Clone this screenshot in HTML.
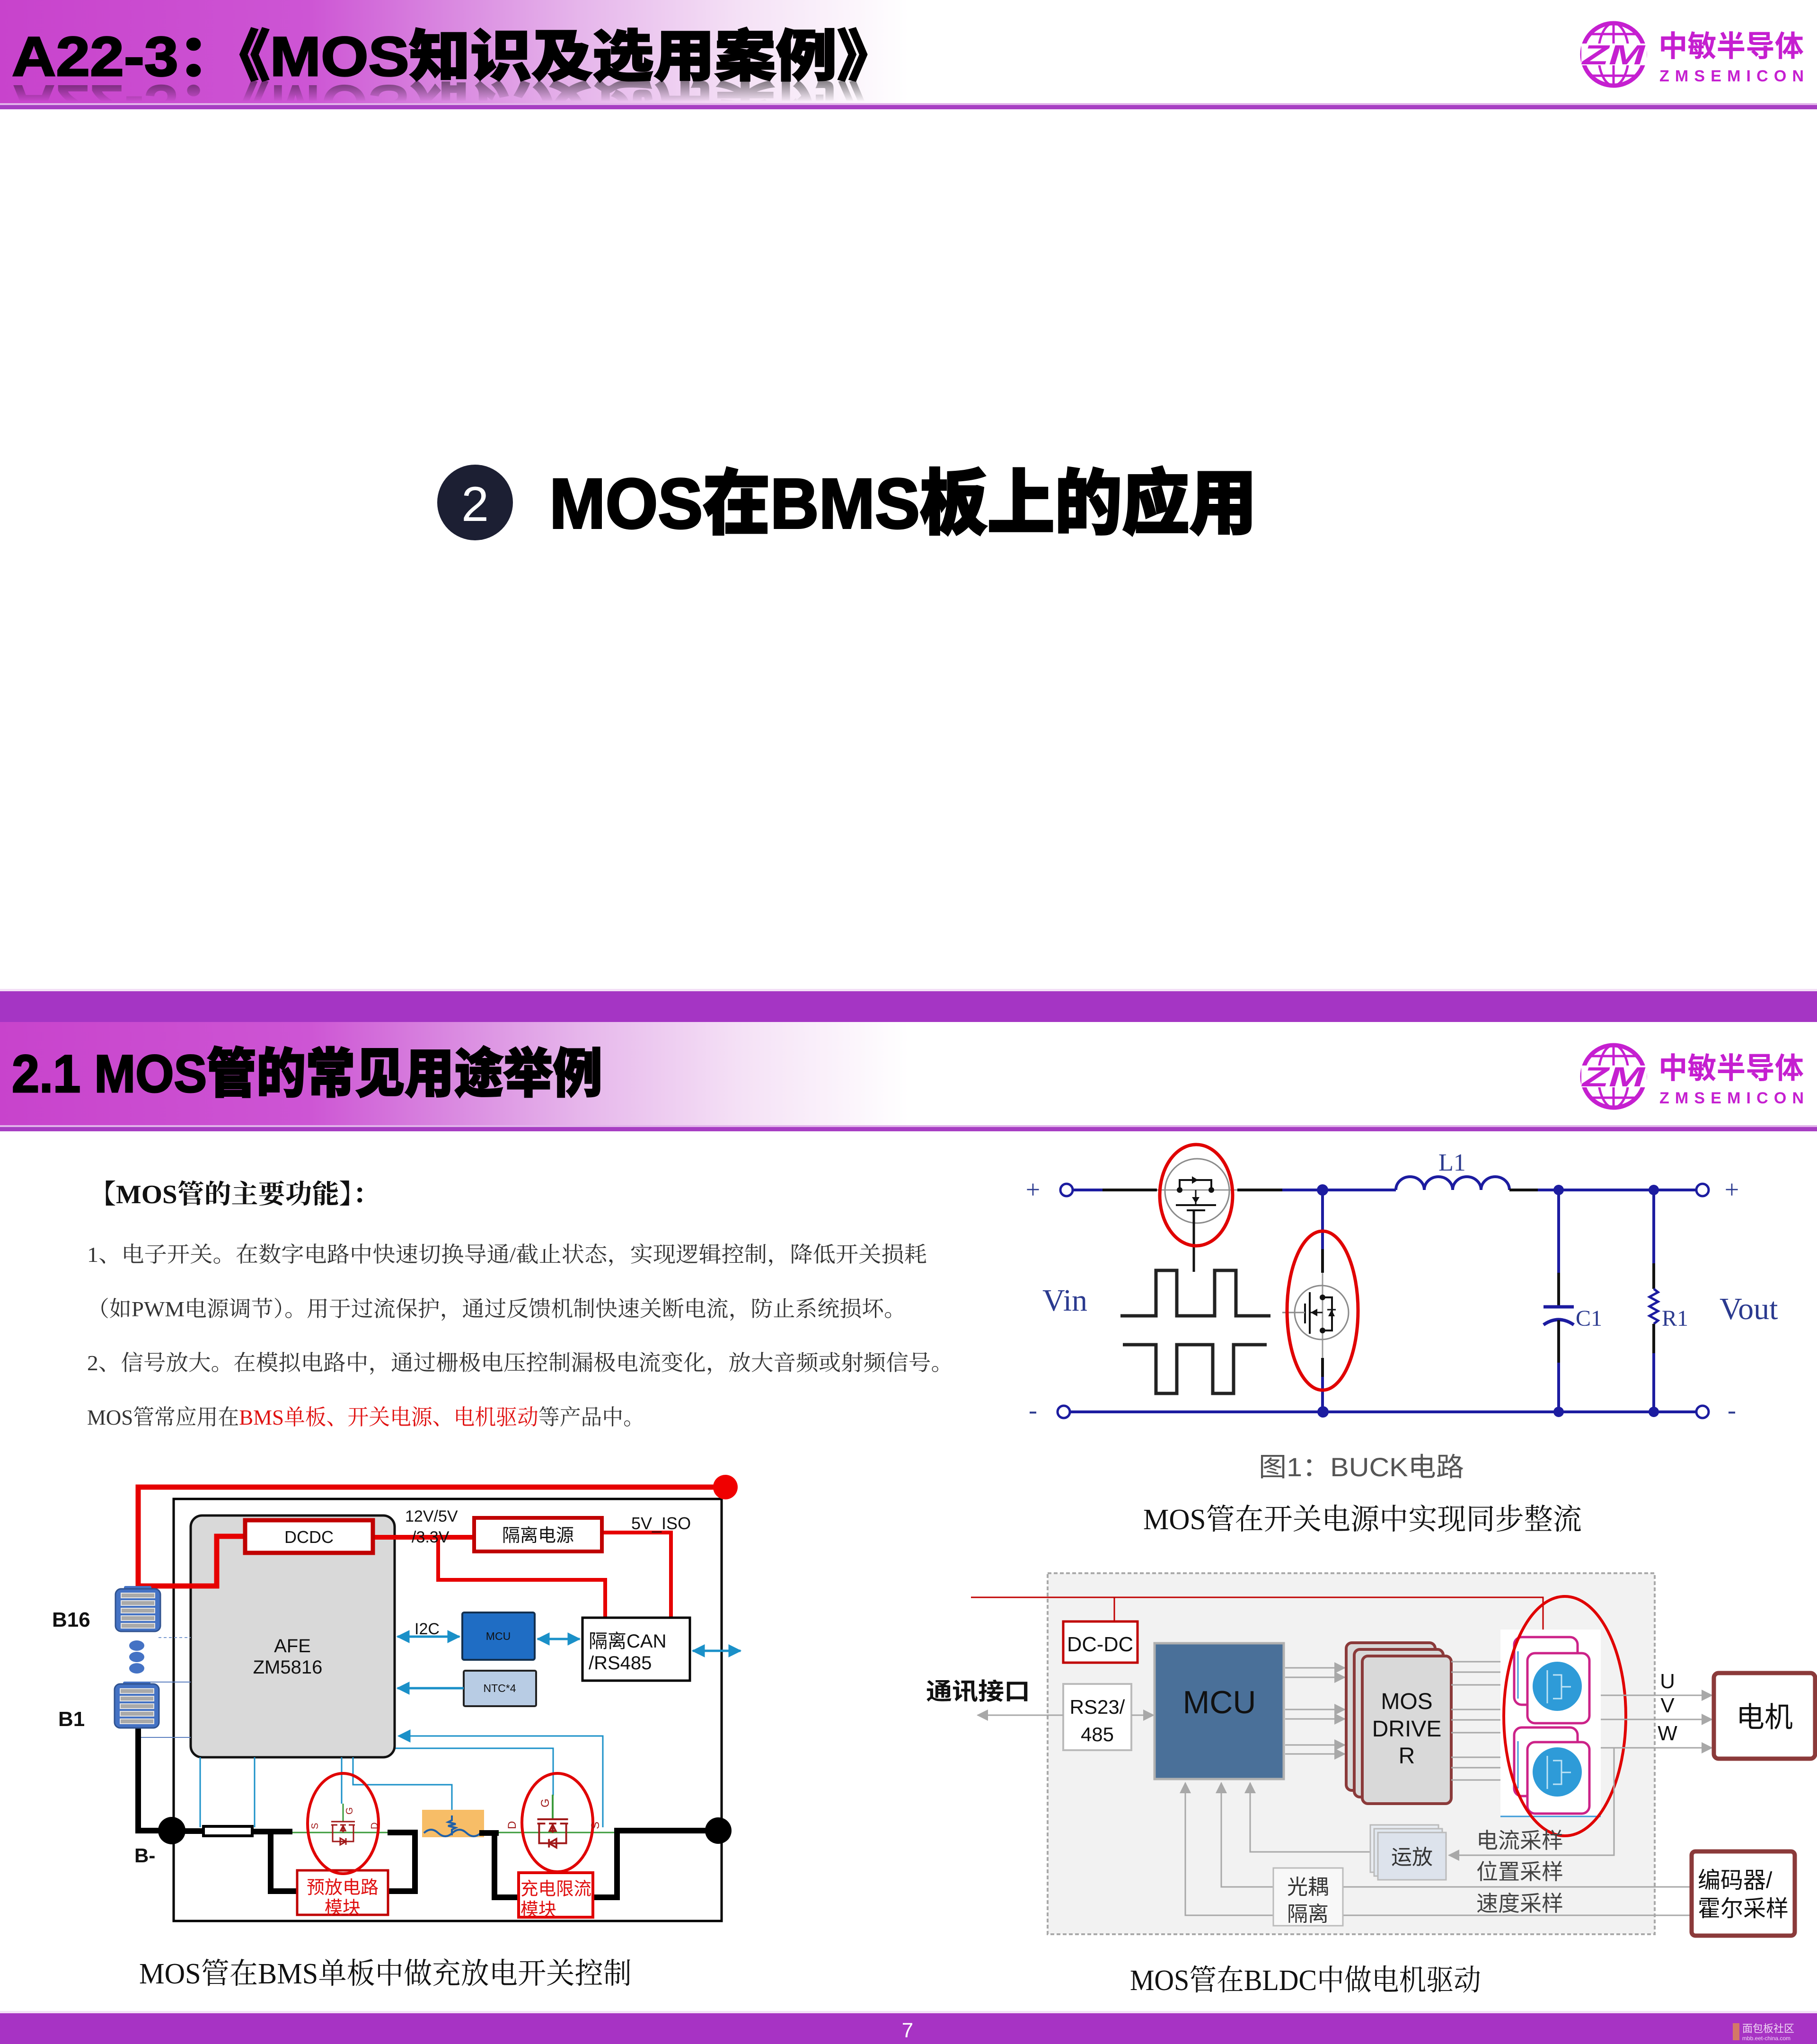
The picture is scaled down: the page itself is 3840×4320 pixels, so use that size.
<!DOCTYPE html>
<html><head><meta charset="utf-8">
<style>
html,body{margin:0;padding:0;background:#fff;width:3840px;height:4320px;overflow:hidden;}
svg{display:block;}
.s{font-family:"Liberation Sans","Noto Sans CJK SC",sans-serif;}
.r{font-family:"Liberation Serif","Noto Serif CJK SC",serif;}
.h{font-family:"Liberation Sans","Noto Sans CJK SC",sans-serif;font-weight:900;}
</style></head><body>
<svg width="3840" height="4320" viewBox="0 0 3840 4320" xmlns="http://www.w3.org/2000/svg">
<defs>
<linearGradient id="hg" x1="0" y1="0" x2="1" y2="0">
 <stop offset="0" stop-color="#c843cc"/>
 <stop offset="0.17" stop-color="#cd55d4"/>
 <stop offset="0.24" stop-color="#d883df"/>
 <stop offset="0.32" stop-color="#e6b6eb"/>
 <stop offset="0.41" stop-color="#f5e2f6"/>
 <stop offset="0.5" stop-color="#ffffff"/>
</linearGradient>
<linearGradient id="rg" gradientUnits="userSpaceOnUse" x1="0" y1="167" x2="0" y2="125">
 <stop offset="0" stop-color="#000" stop-opacity="0.45"/>
 <stop offset="1" stop-color="#000" stop-opacity="0"/>
</linearGradient>
<clipPath id="rc"><rect x="0" y="168" width="2000" height="45"/></clipPath>
<marker id="ab" viewBox="0 0 24 24" refX="22" refY="12" markerWidth="28" markerHeight="28" markerUnits="userSpaceOnUse" orient="auto-start-reverse"><path d="M0,0 L24,12 L0,24 Z" fill="#1a90c8"/></marker>
<marker id="ag" viewBox="0 0 24 24" refX="22" refY="12" markerWidth="24" markerHeight="24" markerUnits="userSpaceOnUse" orient="auto-start-reverse"><path d="M0,0 L24,12 L0,24 Z" fill="#a8a8a8"/></marker>
</defs>

<!-- ================= SLIDE 1 ================= -->
<rect x="0" y="0" width="3840" height="218" fill="url(#hg)"/>
<rect x="0" y="218" width="3840" height="4" fill="#e2b4ea"/>
<rect x="0" y="222" width="3840" height="9" fill="#a73ec3"/>
<text class="h" x="25" y="160" font-size="118" textLength="1873" lengthAdjust="spacingAndGlyphs" fill="#000" stroke="#000" stroke-width="3">A22-3：《MOS知识及选用案例》</text>
<g clip-path="url(#rc)">
 <g transform="translate(0,340) scale(1,-1)">
  <text class="h" x="25" y="160" font-size="118" textLength="1873" lengthAdjust="spacingAndGlyphs" fill="url(#rg)">A22-3：《MOS知识及选用案例》</text>
 </g>
</g>

<!-- logo 1 -->
<g>
 <circle cx="3410" cy="115" r="66" fill="#fff" stroke="#c51fd0" stroke-width="9"/>
 <ellipse cx="3410" cy="115" rx="32" ry="66" fill="none" stroke="#c51fd0" stroke-width="5"/>
 <line x1="3410" y1="49" x2="3410" y2="181" stroke="#c51fd0" stroke-width="5"/>
 <line x1="3360" y1="72" x2="3460" y2="72" stroke="#c51fd0" stroke-width="5"/>
 <line x1="3360" y1="160" x2="3460" y2="160" stroke="#c51fd0" stroke-width="5"/>
 <rect x="3342" y="92" width="138" height="46" fill="#fff"/>
 <text class="s" x="3344" y="136" font-size="58" font-weight="bold" font-style="italic" fill="#c51fd0" textLength="132" lengthAdjust="spacingAndGlyphs">ZM</text>
 <text class="s" x="3505" y="119" font-size="62" font-weight="bold" fill="#c51fd0" textLength="307" lengthAdjust="spacingAndGlyphs">中敏半导体</text>
 <text class="s" x="3507" y="172" font-size="34" font-weight="bold" fill="#c51fd0" textLength="305" lengthAdjust="spacing">ZMSEMICON</text>
</g>

<!-- section heading -->
<circle cx="1004" cy="1062" r="80" fill="#1c1f33"/>
<text x="1004" y="1101" font-family="Liberation Sans, sans-serif" font-size="104" fill="#fff" text-anchor="middle">2</text>
<text class="h" x="1161" y="1116" font-size="150" textLength="1495" lengthAdjust="spacingAndGlyphs" fill="#000" stroke="#000" stroke-width="4">MOS在BMS板上的应用</text>

<!-- slide 1 footer -->
<rect x="0" y="2090" width="3840" height="5" fill="#f3dff6"/>
<rect x="0" y="2095" width="3840" height="65" fill="#a535c4"/>

<!-- ================= SLIDE 2 ================= -->
<rect x="0" y="2160" width="3840" height="218" fill="url(#hg)"/>
<rect x="0" y="2378" width="3840" height="4" fill="#e2b4ea"/>
<rect x="0" y="2382" width="3840" height="9" fill="#a73ec3"/>
<text class="h" x="25" y="2308" font-size="112" textLength="1248" lengthAdjust="spacingAndGlyphs" fill="#000" stroke="#000" stroke-width="3">2.1 MOS管的常见用途举例</text>

<!-- logo 2 -->
<g>
 <circle cx="3410" cy="2275" r="66" fill="#fff" stroke="#c51fd0" stroke-width="9"/>
 <ellipse cx="3410" cy="2275" rx="32" ry="66" fill="none" stroke="#c51fd0" stroke-width="5"/>
 <line x1="3410" y1="2209" x2="3410" y2="2341" stroke="#c51fd0" stroke-width="5"/>
 <line x1="3360" y1="2232" x2="3460" y2="2232" stroke="#c51fd0" stroke-width="5"/>
 <line x1="3360" y1="2320" x2="3460" y2="2320" stroke="#c51fd0" stroke-width="5"/>
 <rect x="3342" y="2252" width="138" height="46" fill="#fff"/>
 <text class="s" x="3344" y="2296" font-size="58" font-weight="bold" font-style="italic" fill="#c51fd0" textLength="132" lengthAdjust="spacingAndGlyphs">ZM</text>
 <text class="s" x="3505" y="2279" font-size="62" font-weight="bold" fill="#c51fd0" textLength="307" lengthAdjust="spacingAndGlyphs">中敏半导体</text>
 <text class="s" x="3507" y="2332" font-size="34" font-weight="bold" fill="#c51fd0" textLength="305" lengthAdjust="spacing">ZMSEMICON</text>
</g>

<!-- body text -->
<text class="r" x="188" y="2543" font-size="56" font-weight="bold" fill="#111" textLength="614" lengthAdjust="spacingAndGlyphs">【MOS管的主要功能】：</text>
<text class="r" x="184" y="2667" font-size="46" fill="#333" textLength="1775" lengthAdjust="spacingAndGlyphs">1、电子开关。在数字电路中快速切换导通/截止状态，实现逻辑控制，降低开关损耗</text>
<text class="r" x="184" y="2782" font-size="46" fill="#333" textLength="1731" lengthAdjust="spacingAndGlyphs">（如PWM电源调节）。用于过流保护，通过反馈机制快速关断电流，防止系统损坏。</text>
<text class="r" x="184" y="2896" font-size="46" fill="#333" textLength="1831" lengthAdjust="spacingAndGlyphs">2、信号放大。在模拟电路中，通过栅极电压控制漏极电流变化，放大音频或射频信号。</text>
<text class="r" x="184" y="3011" font-size="46" fill="#333" textLength="1178" lengthAdjust="spacingAndGlyphs">MOS管常应用在<tspan fill="#e01010">BMS单板、开关电源、电机驱动</tspan>等产品中。</text>

<!-- ================= BUCK circuit ================= -->
<g fill="none" stroke-linecap="butt">
 <line x1="2268" y1="2515" x2="2330" y2="2515" stroke="#1c1ca0" stroke-width="6"/>
 <line x1="2330" y1="2515" x2="2445" y2="2515" stroke="#111" stroke-width="6"/>
 <line x1="2445" y1="2515" x2="2615" y2="2515" stroke="#9a9a9a" stroke-width="3"/>
 <line x1="2615" y1="2515" x2="2710" y2="2515" stroke="#111" stroke-width="6"/>
 <line x1="2710" y1="2515" x2="2950" y2="2515" stroke="#1c1ca0" stroke-width="6"/>
 <path d="M2950,2515 a30,28 0 0 1 60,0 a30,28 0 0 1 60,0 a30,28 0 0 1 60,0 a30,28 0 0 1 60,0" stroke="#1c1ca0" stroke-width="6"/>
 <line x1="3190" y1="2515" x2="3250" y2="2515" stroke="#111" stroke-width="6"/>
 <line x1="3250" y1="2515" x2="3584" y2="2515" stroke="#1c1ca0" stroke-width="6"/>
 <line x1="2262" y1="2984" x2="3584" y2="2984" stroke="#1c1ca0" stroke-width="6"/>
 <circle cx="2254" cy="2515" r="13" stroke="#1c1ca0" stroke-width="5" fill="#fff"/>
 <circle cx="2248" cy="2984" r="13" stroke="#1c1ca0" stroke-width="5" fill="#fff"/>
 <circle cx="3598" cy="2515" r="13" stroke="#1c1ca0" stroke-width="5" fill="#fff"/>
 <circle cx="3598" cy="2984" r="13" stroke="#1c1ca0" stroke-width="5" fill="#fff"/>
 <line x1="2795" y1="2515" x2="2795" y2="2640" stroke="#1c1ca0" stroke-width="6"/>
 <line x1="2795" y1="2640" x2="2795" y2="2690" stroke="#111" stroke-width="6"/>
 <line x1="2795" y1="2690" x2="2795" y2="2870" stroke="#9a9a9a" stroke-width="3"/>
 <line x1="2795" y1="2870" x2="2795" y2="2910" stroke="#111" stroke-width="6"/>
 <line x1="2795" y1="2910" x2="2795" y2="2984" stroke="#1c1ca0" stroke-width="6"/>
 <line x1="3294" y1="2515" x2="3294" y2="2690" stroke="#1c1ca0" stroke-width="6"/>
 <line x1="3294" y1="2690" x2="3294" y2="2762" stroke="#111" stroke-width="6"/>
 <line x1="3262" y1="2762" x2="3326" y2="2762" stroke="#1c1ca0" stroke-width="7"/>
 <path d="M3262,2800 Q3294,2778 3326,2800" stroke="#1c1ca0" stroke-width="7"/>
 <line x1="3294" y1="2790" x2="3294" y2="2880" stroke="#111" stroke-width="6"/>
 <line x1="3294" y1="2880" x2="3294" y2="2984" stroke="#1c1ca0" stroke-width="6"/>
 <line x1="3495" y1="2515" x2="3495" y2="2670" stroke="#1c1ca0" stroke-width="6"/>
 <line x1="3495" y1="2670" x2="3495" y2="2724" stroke="#111" stroke-width="6"/>
 <path d="M3495,2724 l9,7 l-18,10 l18,10 l-18,10 l18,10 l-18,10 l18,10 l-9,7" stroke="#1c1ca0" stroke-width="5"/>
 <line x1="3495" y1="2798" x2="3495" y2="2860" stroke="#111" stroke-width="6"/>
 <line x1="3495" y1="2860" x2="3495" y2="2984" stroke="#1c1ca0" stroke-width="6"/>
 <circle cx="2530" cy="2517" r="68" stroke="#8a8a8a" stroke-width="3"/>
 <path d="M2493,2515 V2494 H2560 V2515" stroke="#111" stroke-width="4"/>
 <path d="M2485,2547 H2570" stroke="#111" stroke-width="4"/>
 <path d="M2508,2558 H2547" stroke="#111" stroke-width="4"/>
 <path d="M2527,2515 V2547" stroke="#111" stroke-width="3"/>
 <line x1="2523" y1="2558" x2="2523" y2="2688" stroke="#111" stroke-width="5"/>
 <line x1="2368" y1="2781" x2="2443" y2="2781" stroke="#111" stroke-width="7"/>
 <circle cx="2793" cy="2774" r="57" stroke="#8a8a8a" stroke-width="3"/>
 <path d="M2795,2742 H2815 V2812 H2795" stroke="#111" stroke-width="4"/>
 <path d="M2768,2731 V2819" stroke="#111" stroke-width="4"/>
 <path d="M2758,2755 V2797" stroke="#111" stroke-width="4"/>
 <path d="M2710,2774 H2758" stroke="#8a8a8a" stroke-width="3"/>
 <path d="M2768,2774 H2795" stroke="#111" stroke-width="3"/>
 <path d="M2805,2768 H2823" stroke="#111" stroke-width="3"/>
 <ellipse cx="2528" cy="2526" rx="77" ry="107" stroke="#e00000" stroke-width="7"/>
 <ellipse cx="2795" cy="2770" rx="75" ry="168" stroke="#e00000" stroke-width="7"/>
 <path d="M2368,2781 H2443 V2685 H2487 V2781 H2567 V2685 H2612 V2781 H2685" stroke="#222" stroke-width="7"/>
 <path d="M2373,2842 H2443 V2945 H2487 V2842 H2563 V2945 H2607 V2842 H2677" stroke="#222" stroke-width="7"/>
</g>
<g fill="#111">
 <circle cx="2493" cy="2515" r="6"/><circle cx="2560" cy="2515" r="6"/>
 <path d="M2519,2530 L2535,2530 L2527,2543 Z"/>
 <path d="M2519,2486 L2532,2494 L2519,2502 Z"/>
 <circle cx="2795" cy="2742" r="6"/><circle cx="2795" cy="2812" r="6"/>
 <path d="M2770,2774 L2784,2766 L2784,2782 Z"/>
 <path d="M2814,2768 L2807,2782 L2821,2782 Z"/>
</g>
<g fill="#1c1ca0">
 <circle cx="2795" cy="2515" r="12"/><circle cx="2796" cy="2984" r="12"/>
 <circle cx="3294" cy="2515" r="11"/><circle cx="3294" cy="2984" r="11"/>
 <circle cx="3495" cy="2515" r="11"/><circle cx="3495" cy="2984" r="11"/>
</g>
<g class="r" fill="#2b3a8f">
 <text x="2183" y="2532" font-size="54" text-anchor="middle">+</text>
 <text x="2183" y="2998" font-size="54" text-anchor="middle">-</text>
 <text x="3660" y="2532" font-size="54" text-anchor="middle">+</text>
 <text x="3660" y="2998" font-size="54" text-anchor="middle">-</text>
 <text x="3040" y="2474" font-size="52">L1</text>
 <text x="3330" y="2802" font-size="48">C1</text>
 <text x="3512" y="2802" font-size="48">R1</text>
 <text x="2203" y="2770" font-size="66">Vin</text>
 <text x="3634" y="2788" font-size="66">Vout</text>
</g>
<text class="s" x="2660" y="3120" font-size="56" fill="#555" textLength="434" lengthAdjust="spacingAndGlyphs">图1：BUCK电路</text>
<text class="r" x="2416" y="3232" font-size="62" fill="#111" textLength="927" lengthAdjust="spacingAndGlyphs">MOS管在开关电源中实现同步整流</text>

<!-- ================= BMS diagram ================= -->
<g fill="none">
 <rect x="367" y="3168" width="1158" height="892" stroke="#000" stroke-width="5" fill="#fff"/>
 <path d="M292,3355 V3143 H1533" stroke="#e60000" stroke-width="11"/>
 <circle cx="1533" cy="3143" r="26" fill="#f00000"/>
 <rect x="403" y="3203" width="431" height="511" rx="24" fill="#d9d9d9" stroke="#111" stroke-width="5"/>
 <path d="M292,3352 H458 V3247 H518" stroke="#e60000" stroke-width="11"/>
 <path d="M788,3249 H1002" stroke="#e60000" stroke-width="10"/>
 <path d="M926,3249 V3339 H1279 V3419" stroke="#e60000" stroke-width="8"/>
 <path d="M1272,3239 H1418 V3419" stroke="#e60000" stroke-width="8"/>
 <rect x="518" y="3213" width="270" height="69" fill="#fff" stroke="#c00000" stroke-width="9"/>
 <rect x="1002" y="3208" width="270" height="71" fill="#fff" stroke="#c00000" stroke-width="8"/>
 <rect x="1231" y="3419" width="227" height="133" fill="#fff" stroke="#000" stroke-width="5"/>
 <rect x="977" y="3408" width="153" height="100" rx="4" fill="#1f6dc4" stroke="#13304f" stroke-width="4"/>
 <rect x="980" y="3531" width="153" height="75" rx="3" fill="#b8cce4" stroke="#222" stroke-width="4"/>
 <line x1="840" y1="3459" x2="971" y2="3459" stroke="#1a90c8" stroke-width="5" marker-start="url(#ab)" marker-end="url(#ab)"/>
 <line x1="1136" y1="3464" x2="1225" y2="3464" stroke="#1a90c8" stroke-width="5" marker-start="url(#ab)" marker-end="url(#ab)"/>
 <line x1="1464" y1="3489" x2="1565" y2="3489" stroke="#1a90c8" stroke-width="5" marker-start="url(#ab)" marker-end="url(#ab)"/>
 <line x1="980" y1="3568" x2="840" y2="3568" stroke="#1a90c8" stroke-width="5" marker-end="url(#ab)"/>
 <path d="M1274,3862 V3669 H842" stroke="#1a90c8" stroke-width="3" marker-end="url(#ab)"/>
 <path d="M836,3695 H1169 V3795" stroke="#1a90c8" stroke-width="3"/>
 <path d="M423,3714 V3862" stroke="#1a90c8" stroke-width="3"/>
 <path d="M538,3714 V3862" stroke="#1a90c8" stroke-width="3"/>
 <path d="M722,3714 V3812" stroke="#1a90c8" stroke-width="3"/>
 <path d="M746,3714 V3772 H955 V3837" stroke="#1a90c8" stroke-width="3"/>
 <line x1="335" y1="3461" x2="403" y2="3461" stroke="#7a9ad0" stroke-width="2" stroke-dasharray="6,5"/>
 <line x1="289" y1="3555" x2="403" y2="3555" stroke="#5b7fbf" stroke-width="2"/>
 <line x1="289" y1="3672" x2="403" y2="3672" stroke="#5b7fbf" stroke-width="2"/>
 <path d="M292,3652 V3869 H363" stroke="#000" stroke-width="12"/>
 <line x1="363" y1="3870" x2="430" y2="3870" stroke="#000" stroke-width="12"/>
 <rect x="430" y="3860" width="103" height="20" fill="#fff" stroke="#000" stroke-width="6"/>
 <line x1="533" y1="3871" x2="618" y2="3871" stroke="#000" stroke-width="12"/>
 <line x1="618" y1="3873" x2="819" y2="3873" stroke="#3a9a3a" stroke-width="3"/>
 <path d="M572,3871 V3997 H628" stroke="#000" stroke-width="12"/>
 <path d="M819,3997 H877 V3873 H819" stroke="#000" stroke-width="12"/>
 <rect x="892" y="3825" width="131" height="58" fill="#f7bd67"/>
 <path d="M896,3874 q15,-14 30,0 t30,0 t30,0 t30,0" stroke="#2060a8" stroke-width="4"/>
 <path d="M955,3837 v10 l-8,4 l16,4 l-16,4 l16,4 l-8,4 v12" stroke="#2060a8" stroke-width="4"/>
 <line x1="1013" y1="3874" x2="1054" y2="3874" stroke="#000" stroke-width="12"/>
 <line x1="1054" y1="3873" x2="1304" y2="3873" stroke="#3a9a3a" stroke-width="3"/>
 <path d="M1045,3874 V4010 H1096" stroke="#000" stroke-width="12"/>
 <path d="M1253,4010 H1304 V3869 H1518" stroke="#000" stroke-width="12"/>
 <circle cx="363" cy="3869" r="29" fill="#000"/>
 <circle cx="1518" cy="3869" r="28" fill="#000"/>
 <rect x="628" y="3953" width="192" height="94" fill="#fff" stroke="#c00000" stroke-width="5"/>
 <rect x="1096" y="3958" width="157" height="94" fill="#fff" stroke="#e00000" stroke-width="6"/>
 <g transform="translate(725,3860)" stroke="#a01818" stroke-width="3">
  <path d="M0,-48 V-10" stroke="#3a9a3a"/>
  <path d="M-25,-10 H25"/>
  <path d="M-25,-3 H-12 M-6,-3 H6 M12,-3 H25"/>
  <path d="M-22,-3 V13 M22,-3 V13 M0,-3 V13"/>
  <path d="M-22,13 V32 H22 V13"/>
  <path d="M-6,25 L6,32 L-6,39 Z M6,25 V39"/>
  <path d="M0,-1 L-5,9 L5,9 Z"/>
 </g>
 <g transform="translate(1168,3858) scale(1.3)" stroke="#a01818" stroke-width="3">
  <path d="M0,-50 V-10" stroke="#3a9a3a"/>
  <path d="M-25,-10 H25"/>
  <path d="M-25,-3 H-12 M-6,-3 H6 M12,-3 H25"/>
  <path d="M-22,-3 V12 M22,-3 V12 M0,-3 V12"/>
  <path d="M-22,12 V29 H22 V12"/>
  <path d="M6,22 L-6,29 L6,36 Z M-6,22 V36"/>
  <path d="M0,-1 L-5,9 L5,9 Z"/>
 </g>
 <ellipse cx="725" cy="3854" rx="75" ry="106" stroke="#e00000" stroke-width="6"/>
 <ellipse cx="1178" cy="3852" rx="75" ry="104" stroke="#e00000" stroke-width="6"/>
</g>
<g>
 <rect x="262" y="3352" width="58" height="9" rx="3" fill="#4472c4"/>
 <rect x="244" y="3358" width="95" height="90" rx="12" fill="#4472c4" stroke="#2f528f" stroke-width="3"/>
 <rect x="256" y="3367" width="71" height="10" fill="#a9a9a9" stroke="#e5e5e5" stroke-width="2"/>
 <rect x="256" y="3383" width="71" height="10" fill="#a9a9a9" stroke="#e5e5e5" stroke-width="2"/>
 <rect x="256" y="3399" width="71" height="10" fill="#a9a9a9" stroke="#e5e5e5" stroke-width="2"/>
 <rect x="256" y="3415" width="71" height="10" fill="#a9a9a9" stroke="#e5e5e5" stroke-width="2"/>
 <rect x="256" y="3431" width="71" height="10" fill="#a9a9a9" stroke="#e5e5e5" stroke-width="2"/>
 <ellipse cx="289" cy="3478" rx="16" ry="11" fill="#4472c4"/>
 <ellipse cx="289" cy="3502" rx="16" ry="11" fill="#4472c4"/>
 <ellipse cx="289" cy="3526" rx="16" ry="11" fill="#4472c4"/>
 <rect x="260" y="3554" width="58" height="9" rx="3" fill="#4472c4"/>
 <rect x="242" y="3559" width="94" height="93" rx="12" fill="#4472c4" stroke="#2f528f" stroke-width="3"/>
 <rect x="254" y="3569" width="71" height="10" fill="#a9a9a9" stroke="#e5e5e5" stroke-width="2"/>
 <rect x="254" y="3585" width="71" height="10" fill="#a9a9a9" stroke="#e5e5e5" stroke-width="2"/>
 <rect x="254" y="3601" width="71" height="10" fill="#a9a9a9" stroke="#e5e5e5" stroke-width="2"/>
 <rect x="254" y="3617" width="71" height="10" fill="#a9a9a9" stroke="#e5e5e5" stroke-width="2"/>
 <rect x="254" y="3633" width="71" height="10" fill="#a9a9a9" stroke="#e5e5e5" stroke-width="2"/>
</g>
<g class="s">
 <text x="110" y="3438" font-size="44" font-weight="bold" fill="#111">B16</text>
 <text x="123" y="3648" font-size="44" font-weight="bold" fill="#111">B1</text>
 <text x="284" y="3936" font-size="42" font-weight="bold" fill="#111">B-</text>
 <text x="653" y="3261" font-size="36" fill="#111" text-anchor="middle">DCDC</text>
 <text x="856" y="3216" font-size="34" fill="#111">12V/5V</text>
 <text x="870" y="3260" font-size="34" fill="#111">/3.3V</text>
 <text x="1137" y="3258" font-size="38" fill="#111" text-anchor="middle">隔离电源</text>
 <text x="1334" y="3232" font-size="36" fill="#111">5V_ISO</text>
 <text x="1244" y="3482" font-size="40" fill="#111">隔离CAN</text>
 <text x="1244" y="3528" font-size="40" fill="#111">/RS485</text>
 <text x="1053" y="3466" font-size="23" fill="#111" text-anchor="middle">MCU</text>
 <text x="1056" y="3576" font-size="23" fill="#111" text-anchor="middle">NTC*4</text>
 <text x="876" y="3454" font-size="34" fill="#111">I2C</text>
 <text x="618" y="3492" font-size="40" fill="#111" text-anchor="middle">AFE</text>
 <text x="608" y="3537" font-size="40" fill="#111" text-anchor="middle">ZM5816</text>
 <text x="724" y="4002" font-size="38" fill="#e01010" text-anchor="middle">预放电路</text>
 <text x="724" y="4045" font-size="38" fill="#e01010" text-anchor="middle">模块</text>
 <text x="1100" y="4005" font-size="38" fill="#e01010" textLength="150" lengthAdjust="spacingAndGlyphs">充电限流</text>
 <text x="1100" y="4049" font-size="38" fill="#e01010">模块</text>
 <text font-size="20" fill="#a01818" transform="translate(672,3866) rotate(-90)">S</text>
 <text font-size="20" fill="#a01818" transform="translate(798,3866) rotate(-90)">D</text>
 <text font-size="20" fill="#a01818" transform="translate(745,3835) rotate(-90)">G</text>
 <text font-size="24" fill="#a01818" transform="translate(1090,3866) rotate(-90)">D</text>
 <text font-size="24" fill="#a01818" transform="translate(1160,3820) rotate(-90)">G</text>
 <text font-size="24" fill="#a01818" transform="translate(1266,3866) rotate(-90)">S</text>
</g>
<text class="r" x="294" y="4192" font-size="62" fill="#111" textLength="1041" lengthAdjust="spacingAndGlyphs">MOS管在BMS单板中做充放电开关控制</text>

<!-- ================= BLDC diagram ================= -->
<g fill="none">
 <rect x="2214" y="3325" width="1283" height="763" fill="#f2f2f2" stroke="#aaa" stroke-width="4" stroke-dasharray="8,5"/>
 <path d="M2052,3376 H3261 V3464" stroke="#c00000" stroke-width="3"/>
 <line x1="2355" y1="3376" x2="2355" y2="3427" stroke="#c00000" stroke-width="3"/>
 <rect x="2247" y="3427" width="157" height="87" fill="#fff" stroke="#c00000" stroke-width="5"/>
 <rect x="2247" y="3559" width="144" height="140" fill="#fff" stroke="#bbb" stroke-width="4"/>
 <line x1="2247" y1="3625" x2="2066" y2="3625" stroke="#a8a8a8" stroke-width="3" marker-end="url(#ag)"/>
 <line x1="2391" y1="3625" x2="2438" y2="3625" stroke="#a8a8a8" stroke-width="3" marker-end="url(#ag)"/>
 <rect x="2440" y="3473" width="273" height="287" fill="#4a7099" stroke="#b0b0b0" stroke-width="5"/>
 <g stroke="#a8a8a8" stroke-width="3">
  <line x1="2716" y1="3525" x2="2842" y2="3525" marker-end="url(#ag)"/>
  <line x1="2716" y1="3545" x2="2842" y2="3545" marker-end="url(#ag)"/>
  <line x1="2716" y1="3613" x2="2842" y2="3613" marker-end="url(#ag)"/>
  <line x1="2716" y1="3633" x2="2842" y2="3633" marker-end="url(#ag)"/>
  <line x1="2716" y1="3688" x2="2842" y2="3688" marker-end="url(#ag)"/>
  <line x1="2716" y1="3707" x2="2842" y2="3707" marker-end="url(#ag)"/>
 </g>
 <rect x="2845" y="3472" width="188" height="312" rx="12" fill="#d9d9d9" stroke="#8b3a3a" stroke-width="6"/>
 <rect x="2862" y="3486" width="188" height="312" rx="12" fill="#d9d9d9" stroke="#8b3a3a" stroke-width="6"/>
 <rect x="2879" y="3500" width="188" height="312" rx="12" fill="#d9d9d9" stroke="#8b3a3a" stroke-width="6"/>
 <g stroke="#a8a8a8" stroke-width="3">
  <line x1="3067" y1="3512" x2="3193" y2="3512" marker-end="url(#ag)"/>
  <line x1="3067" y1="3534" x2="3193" y2="3534" marker-end="url(#ag)"/>
  <line x1="3067" y1="3561" x2="3193" y2="3561" marker-end="url(#ag)"/>
  <line x1="3067" y1="3613" x2="3193" y2="3613" marker-end="url(#ag)"/>
  <line x1="3067" y1="3635" x2="3193" y2="3635" marker-end="url(#ag)"/>
  <line x1="3067" y1="3662" x2="3193" y2="3662" marker-end="url(#ag)"/>
  <line x1="3067" y1="3714" x2="3193" y2="3714" marker-end="url(#ag)"/>
  <line x1="3067" y1="3736" x2="3193" y2="3736" marker-end="url(#ag)"/>
  <line x1="3067" y1="3762" x2="3193" y2="3762" marker-end="url(#ag)"/>
 </g>
 <rect x="3171" y="3444" width="212" height="395" fill="#fff"/>
 <line x1="3171" y1="3839" x2="3383" y2="3839" stroke="#3a9ad9" stroke-width="3"/>
 <rect x="3200" y="3460" width="134" height="143" rx="16" fill="#fff" stroke="#cc2288" stroke-width="5"/>
 <rect x="3228" y="3494" width="131" height="148" rx="16" fill="#fff" stroke="#cc2288" stroke-width="5"/>
 <circle cx="3291" cy="3564" r="52" fill="#2e9bd8"/>
 <path d="M3270,3530 V3600 M3282,3540 H3300 V3590 H3282 M3300,3565 H3320" stroke="#bfe3f5" stroke-width="3"/>
 <rect x="3200" y="3651" width="134" height="145" rx="16" fill="#fff" stroke="#cc2288" stroke-width="5"/>
 <rect x="3228" y="3682" width="131" height="151" rx="16" fill="#fff" stroke="#cc2288" stroke-width="5"/>
 <circle cx="3291" cy="3745" r="52" fill="#2e9bd8"/>
 <path d="M3270,3711 V3781 M3282,3721 H3300 V3771 H3282 M3300,3746 H3320" stroke="#bfe3f5" stroke-width="3"/>
 <line x1="3208" y1="3490" x2="3208" y2="3590" stroke="#3a9ad9" stroke-width="3"/>
 <line x1="3208" y1="3680" x2="3208" y2="3780" stroke="#3a9ad9" stroke-width="3"/>
 <ellipse cx="3307" cy="3627" rx="129" ry="253" stroke="#e00000" stroke-width="6"/>
 <g stroke="#a8a8a8" stroke-width="3">
  <line x1="3383" y1="3583" x2="3618" y2="3583" marker-end="url(#ag)"/>
  <line x1="3383" y1="3634" x2="3618" y2="3634" marker-end="url(#ag)"/>
  <line x1="3383" y1="3694" x2="3618" y2="3694" marker-end="url(#ag)"/>
 </g>
 <rect x="3622" y="3536" width="214" height="181" rx="10" fill="#fff" stroke="#8b3a3a" stroke-width="9"/>
 <path d="M3411,3694 V3921 H3062" stroke="#a8a8a8" stroke-width="3" marker-end="url(#ag)"/>
 <path d="M2905,3914 H2642 V3768" stroke="#a8a8a8" stroke-width="3" marker-end="url(#ag)"/>
 <path d="M3575,3988 H2581 V3768" stroke="#a8a8a8" stroke-width="3" marker-end="url(#ag)"/>
 <path d="M3575,4048 H2505 V3768" stroke="#a8a8a8" stroke-width="3" marker-end="url(#ag)"/>
 <rect x="2896" y="3857" width="144" height="100" fill="#e8ecf2" stroke="#bbb" stroke-width="3"/>
 <rect x="2904" y="3865" width="144" height="100" fill="#e2e8f0" stroke="#bbb" stroke-width="3"/>
 <rect x="2912" y="3873" width="144" height="100" fill="#dde3ec" stroke="#bbb" stroke-width="3"/>
 <rect x="2691" y="3948" width="147" height="122" fill="#f8f8f8" stroke="#bbb" stroke-width="3"/>
 <rect x="3575" y="3913" width="218" height="178" rx="8" fill="#fff" stroke="#8b3a3a" stroke-width="9"/>
</g>
<g class="s">
 <text x="2325" y="3490" font-size="44" fill="#111" text-anchor="middle" textLength="140" lengthAdjust="spacingAndGlyphs">DC-DC</text>
 <text x="2319" y="3622" font-size="42" fill="#111" text-anchor="middle">RS23/</text>
 <text x="2319" y="3680" font-size="42" fill="#111" text-anchor="middle">485</text>
 <text x="1957" y="3592" font-size="50" fill="#111" font-weight="bold" textLength="220" lengthAdjust="spacingAndGlyphs">通讯接口</text>
 <text x="2577" y="3621" font-size="68" fill="#111" text-anchor="middle">MCU</text>
 <text x="2973" y="3612" font-size="48" fill="#111" text-anchor="middle">MOS</text>
 <text x="2973" y="3670" font-size="48" fill="#111" text-anchor="middle">DRIVE</text>
 <text x="2973" y="3727" font-size="48" fill="#111" text-anchor="middle">R</text>
 <text x="3524" y="3568" font-size="44" fill="#111" text-anchor="middle">U</text>
 <text x="3524" y="3619" font-size="44" fill="#111" text-anchor="middle">V</text>
 <text x="3524" y="3678" font-size="44" fill="#111" text-anchor="middle">W</text>
 <text x="3729" y="3650" font-size="60" fill="#111" text-anchor="middle">电机</text>
 <text x="2984" y="3940" font-size="44" fill="#333" text-anchor="middle">运放</text>
 <text x="2764" y="4003" font-size="44" fill="#333" text-anchor="middle">光耦</text>
 <text x="2764" y="4060" font-size="44" fill="#333" text-anchor="middle">隔离</text>
 <text x="3120" y="3906" font-size="46" fill="#444">电流采样</text>
 <text x="3120" y="3972" font-size="46" fill="#444">位置采样</text>
 <text x="3120" y="4039" font-size="46" fill="#444">速度采样</text>
 <text x="3588" y="3990" font-size="48" fill="#111">编码器/</text>
 <text x="3588" y="4050" font-size="48" fill="#111">霍尔采样</text>
</g>
<text class="r" x="2388" y="4206" font-size="62" fill="#111" textLength="742" lengthAdjust="spacingAndGlyphs">MOS管在BLDC中做电机驱动</text>

<!-- slide 2 footer -->
<rect x="0" y="4250" width="3840" height="5" fill="#f3dff6"/>
<rect x="0" y="4255" width="3840" height="65" fill="#a733c4"/>
<text x="1918" y="4306" font-family="Liberation Sans, sans-serif" font-size="44" fill="#fff" text-anchor="middle">7</text>
<rect x="3662" y="4276" width="14" height="36" fill="#e08a50" opacity="0.8"/>
<text class="s" x="3682" y="4295" font-size="22" fill="#f0d8f4">面包板社区</text>
<text class="s" x="3682" y="4312" font-size="12" fill="#f0d8f4">mbb.eet-china.com</text>
</svg>
</body></html>
